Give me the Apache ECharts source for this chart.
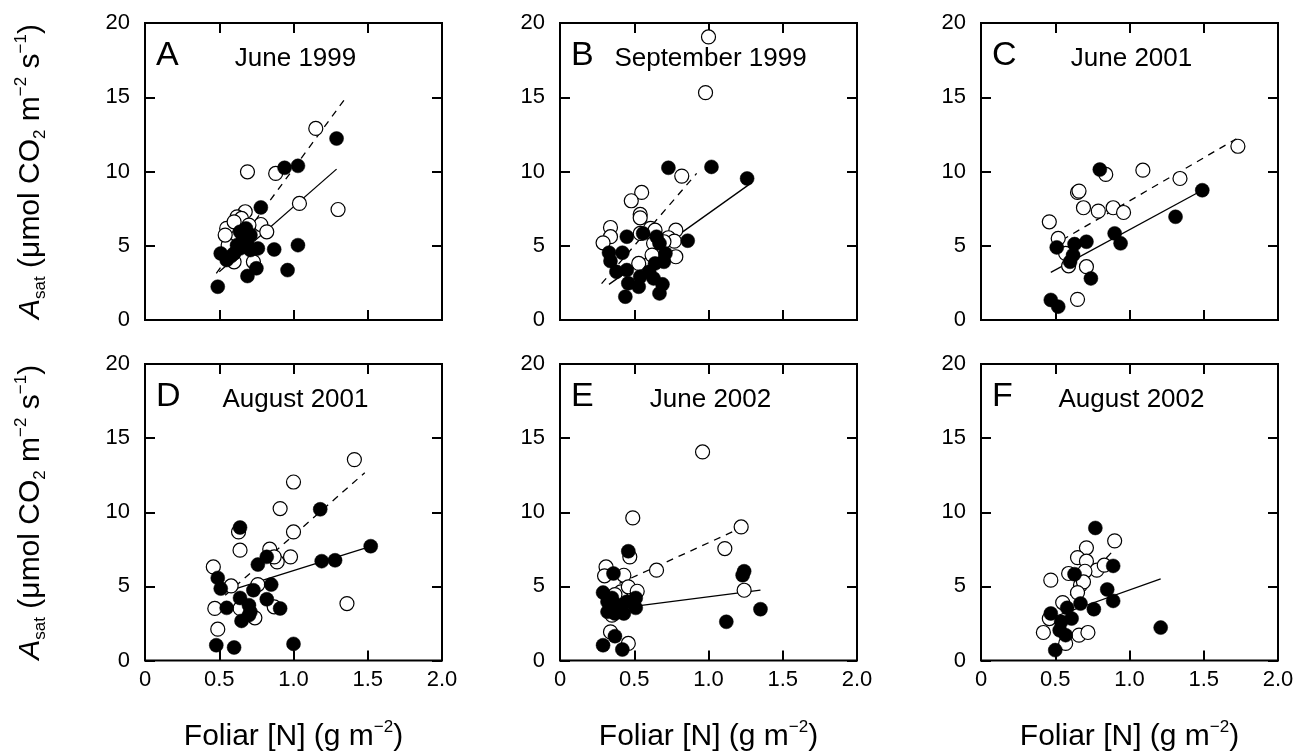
<!DOCTYPE html>
<html>
<head>
<meta charset="utf-8">
<script src="https://cdn.jsdelivr.net/npm/echarts@6/dist/echarts.min.js"></script>
<style>html,body{margin:0;padding:0;background:#fff}#c{width:1308px;height:755px}</style>
</head>
<body>
<div id="c"></div>
<script>
// ---- data (Foliar N, Asat) ----
const panelLetters = ['A','B','C','D','E','F'];
const panelTitles = ['June 1999','September 1999','June 2001','August 2001','June 2002','August 2002'];
const xTicks = [0, 0.5, 1.0, 1.5, 2.0];
const yTicks = [0, 5, 10, 15, 20];

const aOpen = [[0.69,9.98],[0.88,9.87],[1.15,12.9],[1.04,7.85],[1.30,7.44],[0.675,7.29],[0.62,6.95],[0.65,6.84],[0.55,6.17],[0.60,6.61],[0.78,6.43],[0.82,5.94],[0.56,5.04],[0.60,3.92],[0.73,3.92],[0.70,6.39],[0.54,5.72]];
const aFilled = [[0.49,2.24],[0.69,2.96],[0.75,3.48],[0.96,3.36],[0.87,4.75],[1.03,5.04],[0.78,7.58],[0.94,10.25],[1.03,10.38],[1.29,12.22],[0.51,4.48],[0.55,4.04],[0.60,4.48],[0.64,5.94],[0.66,5.49],[0.69,5.04],[0.64,4.82],[0.71,4.71],[0.76,4.82],[0.62,5.04],[0.68,6.17],[0.71,5.72],[0.58,4.3]];
const aSolid = [[0.50,3.25],[1.29,10.16]];
const aDashed = [[0.48,3.14],[1.34,14.8]];

const bOpen = [[1.0,19.06],[0.98,15.31],[0.82,9.69],[0.55,8.59],[0.48,8.03],[0.54,7.11],[0.54,6.88],[0.34,6.23],[0.34,5.61],[0.29,5.20],[0.61,6.17],[0.64,6.05],[0.54,5.83],[0.78,6.05],[0.63,5.16],[0.73,5.54],[0.77,5.31],[0.70,5.27],[0.62,4.37],[0.78,4.26],[0.53,3.81]];
const bFilled = [[0.73,10.25],[1.02,10.31],[1.26,9.53],[0.86,5.34],[0.45,5.61],[0.56,5.83],[0.65,5.61],[0.33,4.53],[0.42,4.53],[0.34,3.97],[0.38,3.25],[0.45,3.36],[0.46,2.47],[0.53,2.24],[0.44,1.57],[0.54,2.91],[0.60,3.25],[0.64,3.81],[0.67,5.16],[0.70,3.92],[0.69,2.40],[0.67,1.79],[0.63,2.80],[0.71,4.48]];
const bSolid = [[0.33,2.4],[1.27,9.1]];
const bDashed = [[0.28,2.45],[0.92,9.87]];

const cOpen = [[1.73,11.70],[1.34,9.53],[1.09,10.09],[0.84,9.80],[0.65,8.59],[0.66,8.68],[0.69,7.56],[0.79,7.33],[0.89,7.56],[0.96,7.24],[0.46,6.61],[0.52,5.49],[0.57,4.48],[0.59,3.65],[0.71,3.59],[0.65,1.39]];
const cFilled = [[0.80,10.13],[1.49,8.74],[1.31,6.95],[0.90,5.83],[0.94,5.16],[0.71,5.27],[0.63,5.11],[0.51,4.89],[0.62,4.37],[0.60,3.92],[0.74,2.80],[0.47,1.35],[0.52,0.90]];
const cSolid = [[0.47,3.21],[1.49,8.74]];
const cDashed = [[0.47,4.95],[1.72,12.2]];

const dOpen = [[1.41,13.55],[1.00,12.04],[0.91,10.25],[1.00,8.67],[0.63,8.67],[0.64,7.44],[0.84,7.51],[0.98,6.99],[0.89,6.65],[0.87,6.99],[0.46,6.31],[0.58,5.03],[0.76,5.12],[0.47,3.51],[0.64,3.51],[0.74,2.88],[0.87,3.62],[1.36,3.84],[0.49,2.11]];
const dFilled = [[0.64,8.97],[1.18,10.20],[1.52,7.71],[1.28,6.76],[1.19,6.70],[0.82,6.99],[0.76,6.47],[0.49,5.57],[0.51,4.85],[0.85,5.12],[0.73,4.74],[0.64,4.22],[0.55,3.55],[0.70,3.73],[0.82,4.13],[0.91,3.51],[0.71,3.28],[0.65,2.67],[0.48,1.03],[0.60,0.88],[1.00,1.12],[0.70,3.06]];
const dSolid = [[0.5,4.5],[1.52,7.7]];
const dDashed = [[0.54,4.4],[1.48,12.67]];

const eOpen = [[0.96,14.07],[0.49,9.62],[1.22,9.01],[1.11,7.55],[0.47,6.99],[0.65,6.09],[0.31,6.31],[0.30,5.71],[0.43,5.75],[1.24,4.74],[0.41,4.63],[0.46,4.97],[0.52,4.67],[0.37,4.45],[0.34,1.93],[0.46,1.15],[0.35,3.06]];
const eFilled = [[0.46,7.37],[1.24,6.02],[1.23,5.75],[0.36,5.87],[0.29,4.58],[1.35,3.46],[1.12,2.61],[0.51,4.22],[0.51,3.55],[0.45,3.96],[0.32,3.96],[0.32,3.28],[0.37,3.17],[0.43,3.17],[0.39,3.73],[0.35,4.22],[0.37,1.64],[0.29,1.03],[0.42,0.74]];
const eSolid = [[0.3,3.4],[1.35,4.75]];
const eDashed = [[0.4,5.2],[1.21,8.9]];

const fOpen = [[0.90,8.07],[0.71,7.60],[0.65,6.94],[0.71,6.70],[0.78,6.09],[0.83,6.43],[0.59,5.87],[0.70,6.02],[0.47,5.42],[0.67,5.08],[0.69,5.30],[0.65,4.58],[0.55,3.91],[0.46,2.83],[0.42,1.89],[0.66,1.71],[0.72,1.89],[0.57,1.15]];
const fFilled = [[0.77,8.94],[0.89,6.38],[0.63,5.82],[0.85,4.79],[0.89,4.02],[0.76,3.46],[0.67,3.84],[0.58,3.55],[0.61,2.83],[0.47,3.17],[0.54,2.61],[0.53,2.04],[0.57,1.71],[0.50,0.70],[1.21,2.22]];
const fSolid = [[0.45,2.8],[1.21,5.5]];
const fDashed = [[0.6,4.4],[0.9,7.5]];

// ---- layout ----
const FONT = '"Liberation Sans", Arial, Helvetica, sans-serif';
const colLefts = [145, 560, 981];
const rowTops = [23, 364];
const PW = 297, PH = [297, 296.5];

const panels = [
  [aOpen, aFilled, aSolid, aDashed],
  [bOpen, bFilled, bSolid, bDashed],
  [cOpen, cFilled, cSolid, cDashed],
  [dOpen, dFilled, dSolid, dDashed],
  [eOpen, eFilled, eSolid, eDashed],
  [fOpen, fFilled, fSolid, fDashed]
];

const grids = [], xAxes = [], yAxes = [], series = [], graphics = [];
const tick = () => ({show: true, inside: true, length: 10, lineStyle: {color: '#000', width: 2}});
const noLine = () => ({show: false, onZero: false});
const xFmt = v => (v === 0 ? '0' : v.toFixed(1));
const xName = '{t|Foliar [N] (g m}{sup|−2}{t|)}';
const yName = '{it|A}{sub|sat}{t| (μmol CO}{sub|2}{t| m}{sup|−2}{t| s}{sup|−1}{t|)}';
const nameRich = {
  t: {fontSize: 30, fontFamily: FONT, color: '#000', lineHeight: 36},
  it: {fontSize: 30, fontFamily: FONT, color: '#000', lineHeight: 36, fontStyle: 'italic'},
  sup: {fontSize: 17, fontFamily: FONT, color: '#000', lineHeight: 19, verticalAlign: 'top'},
  sub: {fontSize: 17, fontFamily: FONT, color: '#000', lineHeight: 19, verticalAlign: 'bottom'}
};

panels.forEach((p, i) => {
  const r = Math.floor(i / 3), c = i % 3;
  const L = colLefts[c], T = rowTops[r], H = PH[r];
  grids.push({left: L, top: T, width: PW, height: H, show: true, borderColor: '#000', borderWidth: 2, backgroundColor: 'transparent', containLabel: false});
  const xMin = xTicks[0], xMax = xTicks[xTicks.length - 1], xInt = xTicks[1] - xTicks[0];
  const yMin = yTicks[0], yMax = yTicks[yTicks.length - 1], yInt = yTicks[1] - yTicks[0];
  xAxes.push({gridIndex: i, type: 'value', min: xMin, max: xMax, interval: xInt, position: 'bottom',
    axisLine: noLine(), axisTick: tick(), splitLine: {show: false},
    axisLabel: {show: r === 1, formatter: xFmt, fontSize: 22, color: '#000', fontFamily: FONT, margin: 8, showMinLabel: true, showMaxLabel: true},
    name: r === 1 ? xName : '', nameLocation: 'middle', nameGap: 58,
    nameTextStyle: {fontSize: 30, fontFamily: FONT, color: '#000', rich: nameRich}});
  xAxes.push({gridIndex: i, type: 'value', min: xMin, max: xMax, interval: xInt, position: 'top',
    axisLine: noLine(), axisTick: tick(), splitLine: {show: false}, axisLabel: {show: false}});
  yAxes.push({gridIndex: i, type: 'value', min: yMin, max: yMax, interval: yInt, position: 'left',
    axisLine: noLine(), axisTick: tick(), splitLine: {show: false},
    axisLabel: {fontSize: 22, color: '#000', fontFamily: FONT, margin: 15, showMinLabel: true, showMaxLabel: true},
    name: c === 0 ? yName : '', nameLocation: 'middle', nameGap: 96, nameRotate: 90,
    nameTextStyle: {fontSize: 30, fontFamily: FONT, color: '#000', rich: nameRich}});
  yAxes.push({gridIndex: i, type: 'value', min: yMin, max: yMax, interval: yInt, position: 'right',
    axisLine: noLine(), axisTick: tick(), splitLine: {show: false}, axisLabel: {show: false}});

  const xi = 2 * i, yi = 2 * i;
  series.push({type: 'line', xAxisIndex: xi, yAxisIndex: yi, data: p[2], symbol: 'none', silent: true, z: 1,
    lineStyle: {color: '#000', width: 1.3}});
  series.push({type: 'line', xAxisIndex: xi, yAxisIndex: yi, data: p[3], symbol: 'none', silent: true, z: 1,
    lineStyle: {color: '#000', width: 1.3, type: [7, 6]}});
  series.push({type: 'scatter', xAxisIndex: xi, yAxisIndex: yi, data: p[0], symbol: 'circle', symbolSize: 14, silent: true, z: 2,
    itemStyle: {color: '#fff', borderColor: '#000', borderWidth: 1.2, opacity: 1}});
  series.push({type: 'scatter', xAxisIndex: xi, yAxisIndex: yi, data: p[1], symbol: 'circle', symbolSize: 14, silent: true, z: 3,
    itemStyle: {color: '#000', borderColor: '#000', borderWidth: 0.5, opacity: 1}});

  graphics.push({type: 'text', x: L + 11, y: T + 33, z: 10, silent: true,
    style: {text: panelLetters[i], fontSize: 34, fontFamily: FONT, fill: '#000', align: 'left', verticalAlign: 'middle'}});
  graphics.push({type: 'text', x: L + PW / 2 + 2, y: T + 36, z: 10, silent: true,
    style: {text: panelTitles[i], fontSize: 26, fontFamily: FONT, fill: '#000', align: 'center', verticalAlign: 'middle'}});
});

const chart = echarts.init(document.getElementById('c'), null, {renderer: 'canvas'});
chart.setOption({
  animation: false,
  backgroundColor: '#fff',
  grid: grids,
  xAxis: xAxes,
  yAxis: yAxes,
  series: series,
  graphic: graphics
});
</script>
</body>
</html>
